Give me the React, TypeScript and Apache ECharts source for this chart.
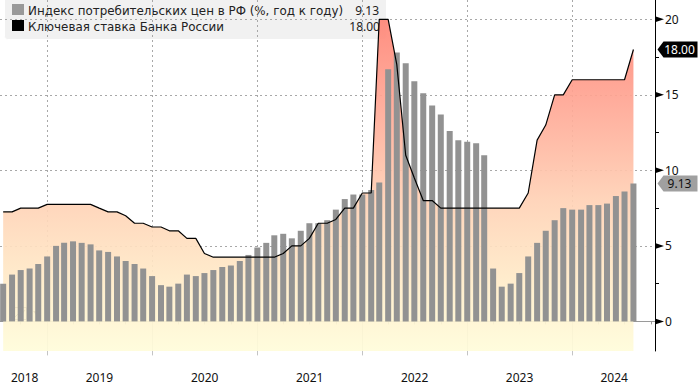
import React, { useEffect, useRef } from "react";
import * as echarts from "echarts";

const months = [
  "2018-07-31","2018-08-31","2018-09-30","2018-10-31","2018-11-30","2018-12-31",
  "2019-01-31","2019-02-28","2019-03-31","2019-04-30","2019-05-31","2019-06-30","2019-07-31","2019-08-31","2019-09-30","2019-10-31","2019-11-30","2019-12-31",
  "2020-01-31","2020-02-29","2020-03-31","2020-04-30","2020-05-31","2020-06-30","2020-07-31","2020-08-31","2020-09-30","2020-10-31","2020-11-30","2020-12-31",
  "2021-01-31","2021-02-28","2021-03-31","2021-04-30","2021-05-31","2021-06-30","2021-07-31","2021-08-31","2021-09-30","2021-10-31","2021-11-30","2021-12-31",
  "2022-01-31","2022-02-28","2022-03-31","2022-04-30","2022-05-31","2022-06-30","2022-07-31","2022-08-31","2022-09-30","2022-10-31","2022-11-30","2022-12-31",
  "2023-01-31","2023-02-28","2023-03-31","2023-04-30","2023-05-31","2023-06-30","2023-07-31","2023-08-31","2023-09-30","2023-10-31","2023-11-30","2023-12-31",
  "2024-01-31","2024-02-29","2024-03-31","2024-04-30","2024-05-31","2024-06-30","2024-07-31",
];
const cpi = [
  2.5,3.1,3.4,3.5,3.8,4.3,
  5.0,5.2,5.3,5.2,5.1,4.7,4.6,4.3,4.0,3.8,3.5,3.0,
  2.4,2.3,2.5,3.1,3.0,3.2,3.4,3.6,3.7,4.0,4.4,4.9,
  5.2,5.7,5.8,5.5,6.0,6.5,6.5,6.7,7.4,8.1,8.4,8.4,
  8.7,9.2,16.7,17.8,17.1,15.9,15.1,14.3,13.7,12.6,12.0,11.9,
  11.8,11.0,3.5,2.3,2.5,3.2,4.3,5.2,6.0,6.7,7.5,7.4,
  7.4,7.7,7.7,7.8,8.3,8.6,9.13,
];
const keyRate = [
  7.25,7.25,7.5,7.5,7.5,7.75,
  7.75,7.75,7.75,7.75,7.75,7.5,7.25,7.25,7.0,6.5,6.5,6.25,
  6.25,6.0,6.0,5.5,5.5,4.5,4.25,4.25,4.25,4.25,4.25,4.25,
  4.25,4.25,4.5,5.0,5.0,5.5,6.5,6.5,6.75,7.5,7.5,8.5,
  8.5,20,20,17,11,9.5,8,8,7.5,7.5,7.5,7.5,
  7.5,7.5,7.5,7.5,7.5,7.5,8.5,12,13,15,15,16,
  16,16,16,16,16,16,18,
];
const yearEnds = ["2018-12-31","2019-12-31","2020-12-31","2021-12-31","2022-12-31","2023-12-31"];
const quarterEnds = [
  "2018-09-30","2019-03-31","2019-06-30","2019-09-30","2020-03-31","2020-06-30","2020-09-30",
  "2021-03-31","2021-06-30","2021-09-30","2022-03-31","2022-06-30","2022-09-30",
  "2023-03-31","2023-06-30","2023-09-30","2024-03-31","2024-06-30","2024-09-30",
];
const yearLabelDates = ["2018-10-14","2019-07-01","2020-07-01","2021-07-01","2022-07-01","2023-07-01","2024-05-25"];
const majorTicks = [0, 5, 10, 15, 20];
const minorTicks = [2.5, 7.5, 12.5, 17.5];
const cpiName = "Индекс потребительских цен в РФ (%, год к году)";
const rateName = "Ключевая ставка Банка России";

const ts = (s: string) => new Date(s + "T00:00:00Z").getTime();
const xMin = ts("2018-07-20");
const xMax = ts("2024-10-14");
const FONT = "'DejaVu Sans', sans-serif";
const NUM_FONT = "'Noto Sans', sans-serif";
const tagPath = "path://M6 0H40V16H6L0 8Z";
const yMin = -1.96;
const yMax = 21.28;

export default function App() {
  const ref = useRef<HTMLDivElement>(null);
  useEffect(() => {
    const chart = echarts.init(ref.current!, undefined, { renderer: "svg" });
    const dates = months.map(ts);
    const common = { type: "value", min: xMin, max: xMax, position: "bottom", gridIndex: 0, scale: true };
    chart.setOption({
      animation: false,
      textStyle: { fontFamily: FONT },
      grid: { left: 0, top: 0, width: 655, height: 351 },
      xAxis: [
        {
          ...common,
          axisLine: { show: true, lineStyle: { color: "#9a9a9a", width: 1 } },
          axisTick: { show: true, length: 3, inside: false, lineStyle: { color: "#9a9a9a" }, customValues: quarterEnds.map(ts) },
          axisLabel: { show: false },
          splitLine: { show: false },
          minorTick: { show: false },
        },
        {
          ...common,
          axisLine: { show: false },
          axisTick: { show: true, length: 34, lineStyle: { color: "#c4c4c4" }, customValues: yearEnds.map(ts) },
          axisLabel: {
            show: true,
            customValues: yearLabelDates.map(ts),
            formatter: (v: number) => String(new Date(v).getUTCFullYear()),
            color: "#111",
            fontSize: 12,
            margin: 20,
            fontFamily: NUM_FONT,
          },
          splitLine: { show: true, lineStyle: { color: "#a8a8a8", type: [2, 3], width: 1 } },
        },
      ],
      yAxis: [
        {
          type: "value",
          position: "right",
          min: yMin,
          max: yMax,
          axisLine: { show: true, lineStyle: { color: "#000", width: 1 } },
          axisTick: { show: false, customValues: majorTicks },
          axisLabel: { show: true, customValues: majorTicks, color: "#111", fontSize: 12, margin: 10, fontFamily: NUM_FONT },
          splitLine: { show: true, lineStyle: { color: "#a8a8a8", type: [2, 3], width: 1 } },
        },
        {
          type: "value",
          position: "right",
          min: yMin,
          max: yMax,
          axisLine: { show: false },
          axisTick: { show: true, length: 4, lineStyle: { color: "#000" }, customValues: minorTicks },
          axisLabel: { show: false },
          splitLine: { show: false },
        },
      ],
      series: [
        {
          type: "line",
          name: "area",
          silent: true,
          z: 1,
          symbol: "none",
          data: dates.map((d, i) => [d, keyRate[i]]),
          lineStyle: { width: 0 },
          areaStyle: {
            origin: "start",
            opacity: 0.92,
            color: new echarts.graphic.LinearGradient(0, 0, 0, 1, [
              { offset: 0, color: "#ff8576" },
              { offset: 0.25, color: "#ffa694" },
              { offset: 0.55, color: "#ffd2b6" },
              { offset: 0.82, color: "#ffeecb" },
              { offset: 1, color: "#fffcda" },
            ]),
          },
        },
        {
          type: "bar",
          name: cpiName,
          z: 2,
          barWidth: 6,
          itemStyle: { color: "#929292" },
          data: dates.map((d, i) => [d, cpi[i]]),
          markPoint: {
            symbol: tagPath,
            symbolSize: [40, 16],
            symbolOffset: [22.5, 0],
            silent: true,
            z: 6,
            itemStyle: { color: "#a0a0a0" },
            label: { position: "inside", color: "#111", fontSize: 12, fontFamily: NUM_FONT, offset: [2, 0], formatter: (p: any) => p.value.toFixed(2) },
            data: [{ coord: [xMax, cpi[cpi.length - 1]], value: cpi[cpi.length - 1] }],
          },
        },
        {
          type: "line",
          name: rateName,
          z: 3,
          symbol: "none",
          lineStyle: { color: "#000", width: 1.2 },
          data: dates.map((d, i) => [d, keyRate[i]]),
          markPoint: {
            symbol: tagPath,
            symbolSize: [40, 16],
            symbolOffset: [22.5, 0],
            silent: true,
            z: 6,
            itemStyle: { color: "#000" },
            label: { position: "inside", color: "#fff", fontSize: 12, fontFamily: NUM_FONT, offset: [2, 0], formatter: (p: any) => p.value.toFixed(2) },
            data: [{ coord: [xMax, keyRate[keyRate.length - 1]], value: keyRate[keyRate.length - 1] }],
          },
        },
        {
          type: "scatter",
          name: "axis markers",
          silent: true,
          clip: false,
          z: 5,
          symbol: "triangle",
          symbolRotate: -90,
          symbolSize: [6, 9],
          symbolOffset: [4.5, 0],
          itemStyle: { color: "#000", opacity: 1 },
          data: majorTicks.map((v) => [xMax, v]),
        },
      ],
      graphic: [
        {
          type: "group",
          z: 50,
          children: [
            { type: "rect", shape: { x: 4.5, y: -3, width: 382, height: 42.5, r: 3 }, style: { fill: "rgba(240,240,240,0.93)", stroke: "rgba(255,255,255,0.9)", lineWidth: 1 } },
            { type: "rect", shape: { x: 12, y: 4, width: 12, height: 11 }, style: { fill: "#999" } },
            { type: "rect", shape: { x: 12, y: 20, width: 12, height: 11 }, style: { fill: "#000" } },
            { type: "text", x: 28, y: 10.5, style: { text: cpiName, fill: "#222", font: "11.9px " + FONT, textVerticalAlign: "middle" } },
            { type: "text", x: 28, y: 26.5, style: { text: rateName, fill: "#222", font: "11.9px " + FONT, textVerticalAlign: "middle" } },
            { type: "text", x: 379, y: 10.5, style: { text: cpi[cpi.length - 1].toFixed(2), fill: "#222", font: "12px " + NUM_FONT, textAlign: "right", textVerticalAlign: "middle" } },
            { type: "text", x: 380, y: 26.5, style: { text: keyRate[keyRate.length - 1].toFixed(2), fill: "#222", font: "12px " + NUM_FONT, textAlign: "right", textVerticalAlign: "middle" } },
          ],
        },
        {
          type: "group",
          z: 50,
          children: [
            { type: "rect", shape: { x: 8.5, y: 303.5, width: 34, height: 20 }, style: { fill: "rgba(255,255,255,0.22)", stroke: "rgba(255,255,255,0.8)", lineWidth: 1 } },
            { type: "rect", shape: { x: 13.5, y: 307.5, width: 13, height: 12 }, style: { fill: "rgba(255,255,255,0.12)", stroke: "#444", lineWidth: 1 } },
            { type: "polyline", shape: { points: [[15, 317], [19, 313], [21, 315], [25, 310]] }, style: { stroke: "#444", fill: "none", lineWidth: 1 } },
            { type: "polygon", shape: { points: [[33, 311], [39, 311], [36, 315]] }, style: { fill: "#444" } },
          ],
        },
      ],
    });
    return () => chart.dispose();
  }, []);
  return <div ref={ref} style={{ position: "absolute", left: 0, top: 0, width: 700, height: 388 }} />;
}
